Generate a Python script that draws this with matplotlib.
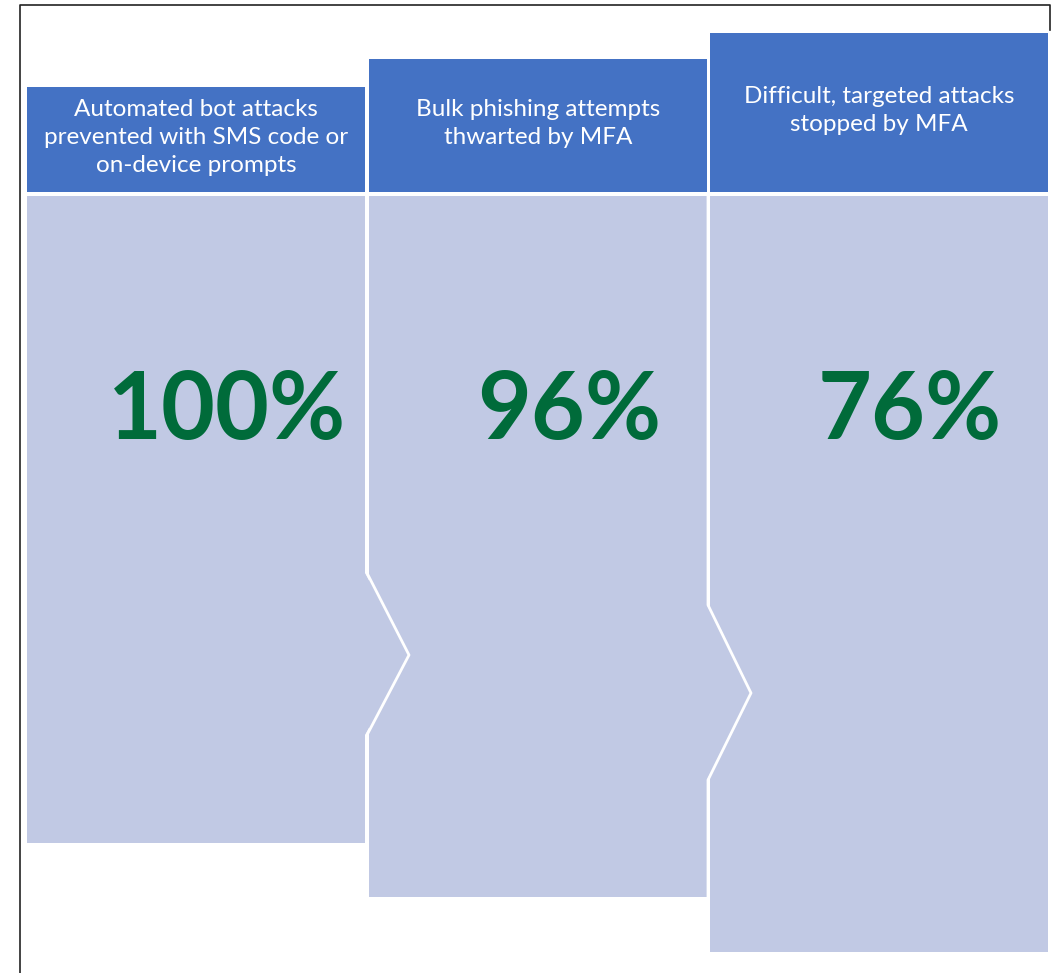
import matplotlib.pyplot as plt
from matplotlib.patches import Polygon, Rectangle

# data
labels = ["Automated bot attacks\nprevented with SMS code or\non-device prompts",
          "Bulk phishing attempts\nthwarted by MFA",
          "Difficult, targeted attacks\nstopped by MFA"]
values = [100, 96, 76]

# layout (pixels)
col_left = [27, 369, 710]
col_right = [365, 707, 1048]
head_top = [87, 59, 33]
head_bot = 192
body_top = 196
body_bot = [843, 897, 952]
# chevrons: (x, y_start, x_tip, y_tip, y_end)
chevrons = [(367, 573, 409, 655, 735), (708, 605, 751, 693, 780)]

blue = "#4472C4"
light = "#C1C9E4"
green = "#006B3A"

fig = plt.figure(figsize=(10.51, 9.73), dpi=100)
ax = fig.add_axes([0, 0, 1, 1])
ax.set_xlim(0, 1051)
ax.set_ylim(973, 0)
ax.axis("off")

# frame
ax.plot([20, 20, 1050, 1050], [973, 5, 5, 30], color="#222222", lw=1.2)

for i in range(3):
    l, r = col_left[i], col_right[i]
    ax.add_patch(Rectangle((l, head_top[i]), r - l, head_bot - head_top[i],
                           facecolor=blue, edgecolor="none"))
    pts = [(l, body_top), (r, body_top)]
    if i < 2:
        cx, y0, tx, ty, y1 = chevrons[i]
        pts += [(r, y0), (tx, ty), (r, y1)]
    pts += [(r, body_bot[i]), (l, body_bot[i])]
    ax.add_patch(Polygon(pts, closed=True, facecolor=light, edgecolor="none"))
    ax.text((l + r) / 2, (head_top[i] + head_bot) / 2 - 2, labels[i],
            ha="center", va="center", color="white", fontsize=17.5,
            family="Lato", linespacing=1.42)
    ax.text((l + r) / 2 + 31, 412, f"{values[i]}%", ha="center", va="center",
            color=green, fontsize=67, family="Lato", fontweight="bold")

for cx, y0, tx, ty, y1 in chevrons:
    ax.plot([cx, cx, tx, cx, cx], [body_top, y0, ty, y1, ty + 400],
            color="white", lw=2)

fig.savefig("out.png", dpi=100)
